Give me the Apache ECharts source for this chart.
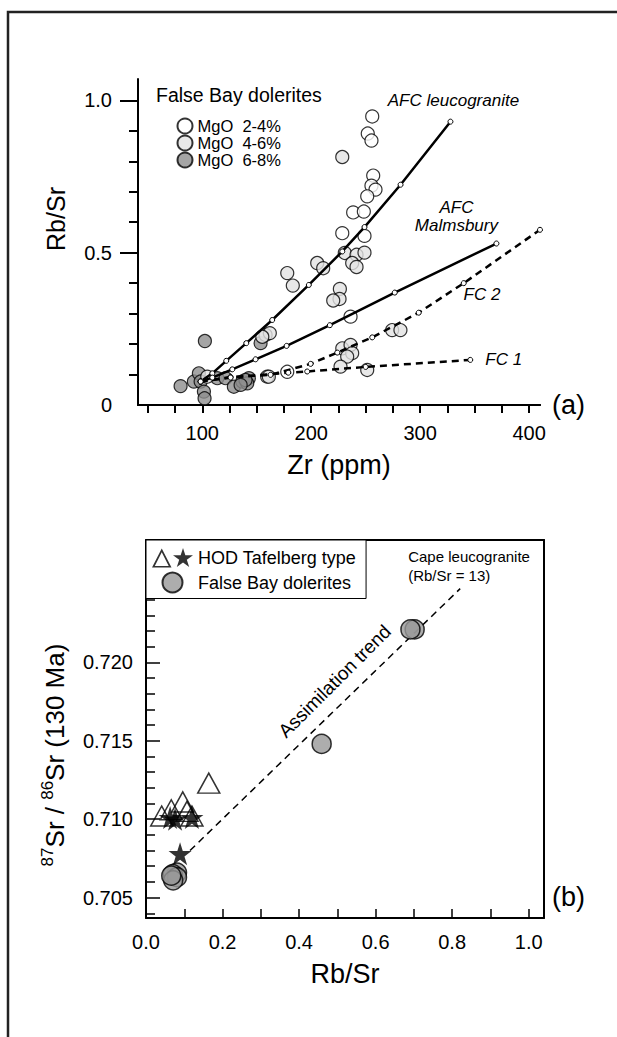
<!DOCTYPE html>
<html><head><meta charset="utf-8">
<script src="https://cdn.jsdelivr.net/npm/echarts@6/dist/echarts.min.js"></script>
<style>html,body{margin:0;padding:0;background:#fff}#c{width:617px;height:1037px}</style>
</head><body><div id="c"></div>
<script>
// ---------- Panel (a): Rb/Sr vs Zr ----------
const zrTicks = [50,75,100,125,150,175,200,225,250,275,300,325,350,375,400];
const zrLabels = [100,200,300,400];
const rbsrMajorTicks = [0.5,1.0];
const rbsrLabels = [0,0.5,1.0];
const rbsrMinorTicks = [0.1,0.2,0.3,0.4,0.6,0.7,0.8,0.9];

const mgo24 = [[256.0,0.947],[251.9,0.891],[255.3,0.868],[256.9,0.753],[255.3,0.720],[259.0,0.707],[251.4,0.685],[238.5,0.632],[248.3,0.635],[228.5,0.564],[248.9,0.555],[236.1,0.290],[178.0,0.109]];
const mgo46 = [[228.5,0.814],[230.8,0.499],[241.6,0.493],[248.9,0.500],[237.6,0.466],[241.6,0.453],[205.5,0.466],[211.0,0.449],[178.0,0.433],[183.1,0.392],[226.3,0.381],[226.0,0.348],[220.2,0.343],[158.1,0.230],[162.0,0.236],[155.1,0.224],[274.3,0.246],[281.9,0.246],[228.5,0.186],[236.1,0.197],[237.6,0.170],[233.0,0.159],[226.9,0.126],[251.4,0.115],[159.6,0.093],[161.1,0.093],[104.6,0.093]];
const mgo68 = [[102.4,0.210],[153.5,0.203],[80.1,0.062],[92.3,0.077],[96.9,0.104],[98.5,0.077],[101.5,0.044],[102.1,0.022],[113.8,0.088],[121.4,0.088],[129.0,0.060],[136.7,0.077],[142.8,0.088],[141.3,0.071],[139.7,0.082],[135.2,0.066]];

const afcLeuco = [[98.5,0.077],[109.2,0.104],[122.0,0.145],[140.4,0.203],[164.2,0.279],[197.8,0.394],[228.5,0.504],[248.9,0.584],[282.0,0.723],[327.8,0.930]];
const afcMalm = [[98.5,0.077],[109.2,0.090],[127.5,0.117],[148.9,0.150],[177.4,0.194],[217.1,0.262],[276.7,0.369],[370.0,0.530]];
const fc2 = [[98.5,0.077],[126.0,0.092],[162.7,0.099],[199.5,0.135],[223.9,0.172],[256.0,0.222],[298.7,0.303],[340.0,0.400],[410.0,0.575]];
const fc1 = [[98.5,0.077],[126.0,0.090],[178.9,0.106],[196.3,0.110],[250.0,0.125],[346.0,0.148]];

// ---------- Panel (b): 87Sr/86Sr vs Rb/Sr ----------
const srLabels = [0.705,0.710,0.715,0.720];
const srMajorTicks = [0.705,0.710,0.715,0.720,0.725];
const srMinorTicks = [0.704,0.706,0.707,0.708,0.709,0.711,0.712,0.713,0.714,0.716,0.717,0.718,0.719,0.721,0.722,0.723,0.724,0.726,0.727];
const ratioTicks = [0.1,0.2,0.3,0.4,0.5,0.6,0.7,0.8,0.9,1.0];
const ratioLabels = [0,0.2,0.4,0.6,0.8,1.0];

const falseBay = [[0.702,0.7221],[0.691,0.7221],[0.459,0.7148],[0.081,0.7066],[0.070,0.7065],[0.081,0.7063],[0.071,0.7061],[0.066,0.7064]];
const hodTriangles = [[0.164,0.7123],[0.096,0.7111],[0.041,0.7102],[0.066,0.7106],[0.107,0.7105],[0.120,0.7102]];
const hodStars = [[0.063,0.7101],[0.076,0.7100],[0.120,0.7101],[0.089,0.7078]];
const assimilation = [[0.115,0.7080],[0.821,0.7247]];
const assimLabelAt = [0.493,0.7188];

const FONT = 'Liberation Sans, Arial, Helvetica, sans-serif';
const STAR = 'path://M50,0 L61.2,34.5 L97.6,34.5 L68.2,55.9 L79.4,90.5 L50,69.1 L20.6,90.5 L31.8,55.9 L2.4,34.5 L38.8,34.5 Z';
const TRI_STAR = 'path://M0,19.5 L9.75,0.5 L19.5,19.5 Z M2.8,17.9 L16.7,17.9 L9.75,4.3 Z M31,0 L33.35,7.26 L40.99,7.26 L34.8,11.74 L37.17,18.99 L31,14.5 L24.83,18.99 L27.2,11.74 L21.01,7.26 L28.65,7.26 Z';
const N24 = 'MgO\u00a0\u00a02-4%', N46 = 'MgO\u00a0\u00a04-6%', N68 = 'MgO\u00a0\u00a06-8%';

function withEndLabel(arr, label) {
  return arr.map((p, i) => i === arr.length - 1 ? { value: p, label: Object.assign({ show: true, color: '#000', fontFamily: FONT, fontStyle: 'italic', fontSize: 17 }, label) } : p);
}
const blackLine = { lineStyle: { color: '#000', width: 2 } };
function modelLine(name, data, dashed, label) {
  return {
    type: 'line', name, xAxisIndex: 0, yAxisIndex: 0, data: withEndLabel(data, label),
    symbol: 'circle', symbolSize: 5, showSymbol: true, showAllSymbol: true,
    itemStyle: { color: '#fff', borderColor: '#000', borderWidth: 1 },
    lineStyle: { color: '#000', width: 2.5, type: dashed ? [7, 5] : 'solid' },
    z: 5, silent: true
  };
}

const option = {
  animation: false,
  backgroundColor: '#fff',
  textStyle: { fontFamily: FONT, color: '#000' },
  title: [{ text: 'False Bay dolerites', left: 156, top: 85, padding: 0, textStyle: { fontFamily: FONT, fontSize: 19.5, fontWeight: 'normal', color: '#000' } }],
  grid: [
    { left: 138, right: 77, top: 79, bottom: 632 },
    { left: 146, right: 73, top: 540, bottom: 119 }
  ],
  legend: [
    { data: [N24, N46, N68], orient: 'vertical', left: 176.5, top: 117.5, padding: 0,
      itemWidth: 15, itemHeight: 15, itemGap: 0, selectedMode: false, icon: 'circle',
      textStyle: { fontFamily: FONT, fontSize: 16.5, lineHeight: 15, color: '#000' } },
    { data: [ { name: 'HOD Tafelberg type', icon: TRI_STAR, itemStyle: { color: '#000', borderWidth: 0 } },
              { name: 'False Bay dolerites', icon: 'circle' } ],
      orient: 'vertical', left: 146, top: 540, padding: [8, 10, 5, 6], itemWidth: 41, itemHeight: 20, itemGap: 4,
      backgroundColor: '#fff', borderColor: '#000', borderWidth: 1, selectedMode: false,
      textStyle: { fontFamily: FONT, fontSize: 18, color: '#000' } }
  ],
  xAxis: [
    { type: 'value', gridIndex: 0, position: 'bottom', min: 41, max: 410, splitLine: { show: false }, axisLine: blackLine,
      axisTick: { show: true, inside: false, length: 8, customValues: zrTicks, lineStyle: { color: '#000', width: 2 } },
      axisLabel: { customValues: zrLabels, fontSize: 20, margin: 18, color: '#000', fontFamily: FONT },
      name: 'Zr (ppm)', nameLocation: 'middle', nameGap: 46, nameTextStyle: { fontSize: 27, color: '#000', fontFamily: FONT } },
    { type: 'value', gridIndex: 0, position: 'top', min: 41, max: 410, splitLine: { show: false }, axisLine: blackLine,
      axisTick: { show: false }, axisLabel: { show: false } },
    { type: 'value', gridIndex: 1, position: 'bottom', min: 0, max: 1.04, splitLine: { show: false }, axisLine: blackLine,
      axisTick: { show: true, inside: true, length: 9, customValues: ratioTicks, lineStyle: { color: '#000', width: 1.5 } },
      axisLabel: { customValues: ratioLabels, formatter: v => v.toFixed(1), fontSize: 20, margin: 14, color: '#000', fontFamily: FONT },
      name: 'Rb/Sr', nameLocation: 'middle', nameGap: 42, nameTextStyle: { fontSize: 27, color: '#000', fontFamily: FONT } },
    { type: 'value', gridIndex: 1, position: 'top', min: 0, max: 1.04, splitLine: { show: false }, axisLine: blackLine,
      axisTick: { show: false }, axisLabel: { show: false } }
  ],
  yAxis: [
    { type: 'value', gridIndex: 0, position: 'left', min: 0, max: 1.07, splitLine: { show: false }, axisLine: blackLine,
      axisTick: { show: true, inside: false, length: 18, customValues: rbsrMajorTicks, lineStyle: { color: '#000', width: 2 } },
      axisLabel: { customValues: rbsrLabels, formatter: v => v === 0 ? '0' : v.toFixed(1), fontSize: 20, margin: 26, color: '#000', fontFamily: FONT },
      name: 'Rb/Sr', nameLocation: 'middle', nameGap: 70, nameTextStyle: { fontSize: 25, color: '#000', fontFamily: FONT, padding: [0, 0, 0, 46] } },
    { type: 'value', gridIndex: 0, position: 'left', min: 0, max: 1.07, splitLine: { show: false }, axisLine: { show: false },
      axisTick: { show: true, inside: false, length: 9, customValues: rbsrMinorTicks, lineStyle: { color: '#000', width: 2 } },
      axisLabel: { show: false } },
    { type: 'value', gridIndex: 1, position: 'left', min: 0.7037, max: 0.7278, splitLine: { show: false }, axisLine: blackLine,
      axisTick: { show: true, inside: true, length: 14, customValues: srMajorTicks, lineStyle: { color: '#000', width: 1.5 } },
      axisLabel: { customValues: srLabels, formatter: v => v.toFixed(3), fontSize: 20, margin: 13, color: '#000', fontFamily: FONT },
      name: '{sup|87}Sr / {sup|86}Sr (130 Ma)', nameLocation: 'middle', nameGap: 76,
      nameTextStyle: { fontSize: 26, color: '#000', fontFamily: FONT, padding: [0, 52, 0, 0], rich: { sup: { fontSize: 17, fontFamily: FONT, padding: [0, 0, 14, 0] } } } },
    { type: 'value', gridIndex: 1, position: 'left', min: 0.7037, max: 0.7278, splitLine: { show: false }, axisLine: { show: false },
      axisTick: { show: true, inside: true, length: 9, customValues: srMinorTicks, lineStyle: { color: '#000', width: 1.5 } },
      axisLabel: { show: false } },
    { type: 'value', gridIndex: 1, position: 'right', min: 0.7037, max: 0.7278, splitLine: { show: false }, axisLine: blackLine,
      axisTick: { show: false }, axisLabel: { show: false } }
  ],
  series: [
    { type: 'scatter', name: N68, xAxisIndex: 0, yAxisIndex: 0, data: mgo68, symbolSize: 13,
      itemStyle: { color: '#8e8e8e', borderColor: '#000', borderWidth: 1.2 }, z: 2 },
    { type: 'scatter', name: N46, xAxisIndex: 0, yAxisIndex: 0, data: mgo46, symbolSize: 13,
      itemStyle: { color: '#e2e2e2', borderColor: '#000', borderWidth: 1.2 }, z: 3 },
    { type: 'scatter', name: N24, xAxisIndex: 0, yAxisIndex: 0, data: mgo24, symbolSize: 13,
      itemStyle: { color: '#ffffff', borderColor: '#000', borderWidth: 1.2 }, z: 4 },
    modelLine('AFC leucogranite', afcLeuco, false, { formatter: 'AFC leucogranite', position: 'top', distance: 5, offset: [3, -5] }),
    modelLine('AFC Malmsbury', afcMalm, false, { formatter: 'AFC\nMalmsbury', position: 'top', distance: 6, offset: [-40, 0], lineHeight: 18, align: 'center' }),
    modelLine('FC 2', fc2, true, { formatter: 'FC 2', position: 'bottom', distance: 8, offset: [-58, 45] }),
    modelLine('FC 1', fc1, true, { formatter: 'FC 1', position: 'right', distance: 12, offset: [0, 0] }),

    { type: 'line', name: 'Assimilation trend', xAxisIndex: 2, yAxisIndex: 2, data: assimilation,
      symbol: 'none', lineStyle: { color: '#000', width: 1.5, type: [7, 5] }, z: 1, silent: true,
      markPoint: { symbol: 'circle', symbolSize: 0, silent: true,
        data: [
          { coord: assimLabelAt, label: { show: true, formatter: 'Assimilation trend', rotate: 45, position: 'inside', fontSize: 19, color: '#000', fontFamily: FONT } },
          { coord: assimilation[assimilation.length - 1], label: { show: true, formatter: 'Cape leucogranite\n(Rb/Sr = 13)', position: 'top', align: 'left', distance: 4, offset: [-52, 0], fontSize: 15, lineHeight: 19, color: '#000', fontFamily: FONT } }
        ] } },
    { type: 'scatter', name: 'False Bay dolerites', xAxisIndex: 2, yAxisIndex: 2, data: falseBay, symbolSize: 19,
      itemStyle: { color: '#999999', borderColor: '#000', borderWidth: 1.5 }, z: 3 },
    { type: 'scatter', name: 'HOD Tafelberg type', xAxisIndex: 2, yAxisIndex: 2, data: hodTriangles, symbol: 'triangle', symbolSize: [22, 20],
      itemStyle: { color: 'rgba(255,255,255,0)', borderColor: '#000', borderWidth: 1.5 }, z: 4 },
    { type: 'scatter', name: 'HOD Tafelberg type', xAxisIndex: 2, yAxisIndex: 2, data: hodStars, symbol: STAR, symbolSize: 23,
      itemStyle: { color: '#000', borderColor: '#000', borderWidth: 0 }, z: 5 }
  ],
  graphic: [
    { type: 'polyline', silent: true, shape: { points: [[8, 1037], [8, 12], [617, 12]] }, style: { stroke: '#222', lineWidth: 2.5, fill: null } },
    { type: 'text', left: 552, top: 391, style: { text: '(a)', fontSize: 27, fontFamily: FONT, fill: '#000' } },
    { type: 'text', left: 552, top: 883, style: { text: '(b)', fontSize: 27, fontFamily: FONT, fill: '#000' } }
  ]
};
const chart = echarts.init(document.getElementById('c'), null, { renderer: 'svg' });
chart.setOption(option);
</script></body></html>
